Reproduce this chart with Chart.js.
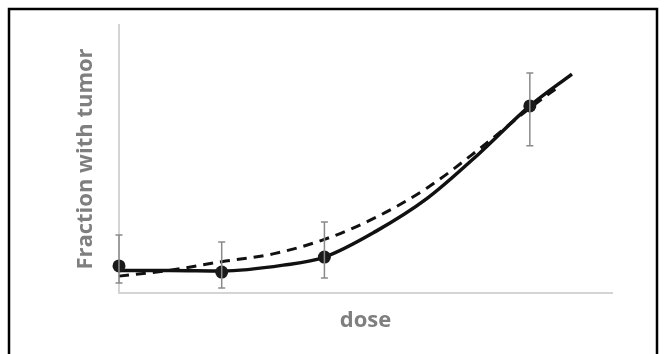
<!DOCTYPE html>
<html>
<head>
<meta charset="utf-8">
<script src="https://cdn.jsdelivr.net/npm/chart.js@4.4.1/dist/chart.umd.min.js"></script>
<style>
  html, body { margin: 0; padding: 0; background: #fff; }
  #wrap { position: relative; width: 666px; height: 354px; }
</style>
</head>
<body>
<div id="wrap"><canvas id="c" width="666" height="354"></canvas></div>
<script>
// Observed data points (dose, fraction with tumor)
const doses = [0, 1, 2, 4];
const fraction = [0.101, 0.078, 0.134, 0.698];
const errHigh = [0.216, 0.190, 0.265, 0.821];
const errLow = [0.037, 0.019, 0.056, 0.549];

// Fitted curve (solid)
const solidX = [0, 0.5, 1.0, 1.6, 2.0, 2.5, 3.0, 3.5, 4.0, 4.41];
const solidY = [0.084, 0.084, 0.082, 0.104, 0.134, 0.230, 0.353, 0.518, 0.698, 0.817];

// Alternative fit (dashed)
const dashX = [0, 0.5, 1.0, 1.5, 2.0, 2.5, 3.0, 3.5, 4.0, 4.28];
const dashY = [0.063, 0.085, 0.117, 0.146, 0.200, 0.282, 0.392, 0.535, 0.690, 0.769];

const xTitle = 'dose';
const yTitle = 'Fraction with tumor';

const toPts = (xs, ys) => xs.map((x, i) => ({ x: x, y: ys[i] }));

const errorBarPlugin = {
  id: 'errorBars',
  afterDatasetsDraw(chart) {
    const ctx = chart.ctx;
    const xs = chart.scales.x, ys = chart.scales.y;
    ctx.save();
    ctx.strokeStyle = '#8a8a8a';
    ctx.lineWidth = 1.5;
    doses.forEach((d, i) => {
      const px = xs.getPixelForValue(d);
      const yt = ys.getPixelForValue(errHigh[i]);
      const yb = ys.getPixelForValue(errLow[i]);
      ctx.beginPath();
      ctx.moveTo(px, yt); ctx.lineTo(px, yb);
      ctx.moveTo(px - 3.5, yt); ctx.lineTo(px + 3.5, yt);
      ctx.moveTo(px - 3.5, yb); ctx.lineTo(px + 3.5, yb);
      ctx.stroke();
    });
    ctx.restore();
  }
};

const framePlugin = {
  id: 'frame',
  afterDraw(chart) {
    const ctx = chart.ctx;
    ctx.save();
    ctx.strokeStyle = '#000';
    ctx.lineWidth = 2.5;
    ctx.beginPath();
    ctx.moveTo(9, 354);
    ctx.lineTo(9, 9);
    ctx.lineTo(657, 9);
    ctx.lineTo(657, 354);
    ctx.stroke();
    ctx.restore();
  }
};

new Chart(document.getElementById('c'), {
  type: 'scatter',
  data: {
    datasets: [
      {
        type: 'scatter',
        data: toPts(doses, fraction),
        pointRadius: 6.5,
        pointBackgroundColor: '#1a1a1a',
        pointBorderColor: '#1a1a1a',
        pointBorderWidth: 0,
        clip: false,
        order: 0
      },
      {
        type: 'line',
        data: toPts(solidX, solidY),
        borderColor: '#111',
        borderWidth: 3.5,
        pointRadius: 0,
        fill: false,
        cubicInterpolationMode: 'monotone',
        clip: false,
        order: 1
      },
      {
        type: 'line',
        data: toPts(dashX, dashY),
        borderColor: '#111',
        borderWidth: 3,
        borderDash: [10, 7],
        pointRadius: 0,
        fill: false,
        cubicInterpolationMode: 'monotone',
        clip: false,
        order: 2
      }
    ]
  },
  options: {
    responsive: false,
    animation: false,
    devicePixelRatio: 1,
    layout: { padding: { left: 0, right: 54, top: 25, bottom: 0 } },
    plugins: { legend: { display: false }, tooltip: { enabled: false } },
    scales: {
      x: {
        type: 'linear',
        min: 0,
        max: 4.8,
        grid: { display: false, drawTicks: false },
        border: { display: true, color: '#d4d4d4', width: 2 },
        ticks: { display: false },
        title: {
          display: true,
          text: xTitle,
          color: '#7f7f7f',
          font: { family: '"Open Sans"', size: 22, weight: 'bold' },
          padding: { top: 14.8, bottom: 19.8 }
        }
      },
      y: {
        type: 'linear',
        min: 0,
        max: 1,
        grid: { display: false, drawTicks: false },
        border: { display: true, color: '#d4d4d4', width: 2 },
        ticks: { display: false },
        title: {
          display: true,
          text: yTitle,
          color: '#7f7f7f',
          font: { family: '"Open Sans"', size: 22, weight: 'bold' },
          padding: { top: 72.8, bottom: 19.8 }
        }
      }
    }
  },
  plugins: [errorBarPlugin, framePlugin]
});
</script>
</body>
</html>
